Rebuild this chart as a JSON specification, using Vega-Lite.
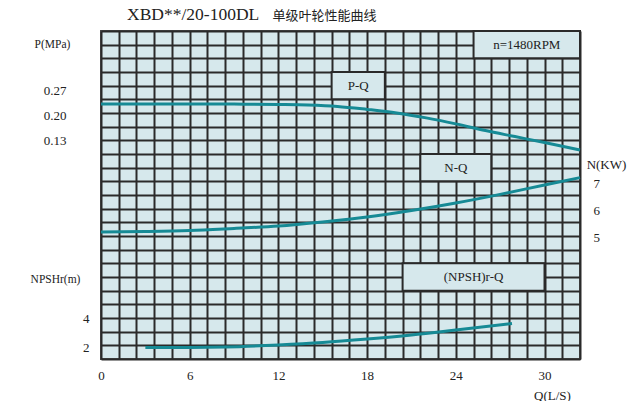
{
  "$schema": "https://vega.github.io/schema/vega-lite/v6.json",
  "autosize": {"type": "none"},
  "padding": {"left": 101, "top": 31, "right": 62, "bottom": 42},
  "width": 479,
  "height": 328,
  "background": "#ffffff",
  "title": {
    "text": "XBD**/20-100DL",
    "anchor": "start",
    "frame": "group",
    "dx": 26,
    "dy": 20,
    "offset": 6,
    "font": "Liberation Serif",
    "fontSize": 17.5,
    "fontWeight": "normal",
    "color": "#222222"
  },
  "config": {
    "view": {"fill": "#d6e8ec", "stroke": "#4a4a4a", "strokeWidth": 2},
    "axis": {
      "labelFont": "Liberation Serif",
      "labelFontSize": 13,
      "labelColor": "#222222",
      "titleFont": "Liberation Serif",
      "titleFontWeight": "normal",
      "titleColor": "#222222",
      "ticks": false,
      "domain": false,
      "grid": false,
      "labelOverlap": false,
      "labelFlush": false,
      "labelBound": false,
      "tickCount": 100
    },
    "text": {"font": "Liberation Serif"}
  },
  "resolve": {"scale": {"y": "independent"}, "axis": {"y": "independent"}},
  "layer": [
    {
      "data": {"values": [
        {"label": "n=1480RPM", "x1": 25.2, "x2": 32.4, "r1": 22, "r2": 24, "qc": 28.8, "rc": 23},
        {"label": "P-Q", "x1": 15.6, "x2": 19.2, "r1": 19, "r2": 21, "qc": 17.4, "rc": 20},
        {"label": "N-Q", "x1": 21.6, "x2": 26.4, "r1": 13, "r2": 15, "qc": 24, "rc": 14},
        {"label": "(NPSH)r-Q", "x1": 20.4, "x2": 30, "r1": 5, "r2": 7, "qc": 25.2, "rc": 6}
      ]},
      "layer": [
        {
          "mark": {"type": "rect", "fill": "#d6e8ec", "stroke": "#2a2a2a", "strokeWidth": 2},
          "encoding": {
            "x": {
              "field": "x1", "type": "quantitative",
              "scale": {"domain": [0, 32.4], "nice": false, "zero": false},
              "axis": {
                "orient": "bottom",
                "values": [0, 1.2, 2.4, 3.6, 4.8, 6, 7.2, 8.4, 9.6, 10.8, 12, 13.2, 14.4, 15.6, 16.8, 18, 19.2, 20.4, 21.6, 22.8, 24, 25.2, 26.4, 27.6, 28.8, 30, 31.2, 32.4],
                "tickCount": 100,
                "format": ".0f",
                "labelExpr": "indexof([0, 6, 12, 18, 24, 30], datum.value) >= 0 ? datum.label : ''",
                "grid": true, "gridColor": "#2a2a2a", "gridWidth": 2, "gridOpacity": 1,
                "labelPadding": 10,
                "title": "Q(L/S)",
                "titleFontSize": 13,
                "titleX": 451, "titleY": 36,
                "titleAlign": "center", "titleBaseline": "middle", "titleAnchor": null
              }
            },
            "x2": {"field": "x2"},
            "y": {
              "field": "r1", "type": "quantitative",
              "scale": {"domain": [0, 24], "nice": false, "zero": false},
              "axis": {
                "orient": "left",
                "values": [0, 1, 2, 3, 4, 5, 6, 7, 8, 9, 10, 11, 12, 13, 14, 15, 16, 17, 18, 19, 20, 21, 22, 23, 24],
                "tickCount": 100,
                "grid": true, "gridColor": "#2a2a2a", "gridWidth": 2, "gridOpacity": 1,
                "labels": false,
                "title": "单级叶轮性能曲线",
                "titleFont": "Noto Sans CJK SC",
                "titleFontSize": 13,
                "titleAngle": 0,
                "titleX": 171, "titleY": -16,
                "titleAlign": "left", "titleBaseline": "middle", "titleAnchor": null
              }
            },
            "y2": {"field": "r2"}
          }
        },
        {
          "mark": {"type": "text", "fontSize": 13, "color": "#222222", "align": "center", "baseline": "middle"},
          "encoding": {
            "x": {"field": "qc", "type": "quantitative"},
            "y": {"field": "rc", "type": "quantitative"},
            "text": {"field": "label"}
          }
        }
      ]
    },
    {
      "data": {"values": [
        {"q": 0, "p": 0.232}, {"q": 3, "p": 0.232}, {"q": 6, "p": 0.232}, {"q": 9, "p": 0.232},
        {"q": 12, "p": 0.231}, {"q": 14, "p": 0.2295}, {"q": 16, "p": 0.2255}, {"q": 18, "p": 0.217},
        {"q": 20, "p": 0.207}, {"q": 22, "p": 0.193}, {"q": 24, "p": 0.176}, {"q": 26, "p": 0.157},
        {"q": 28, "p": 0.14}, {"q": 30, "p": 0.123}, {"q": 32.4, "p": 0.102}
      ]},
      "mark": {"type": "line", "color": "#168a95", "strokeWidth": 3, "interpolate": "monotone", "strokeCap": "butt"},
      "encoding": {
        "x": {"field": "q", "type": "quantitative"},
        "y": {
          "field": "p", "type": "quantitative",
          "scale": {"domain": [-0.4903, 0.4392], "nice": false, "zero": false},
          "axis": {
            "orient": "left",
            "values": [0.27, 0.2, 0.13],
            "format": ".2f",
            "labelPadding": 35,
            "title": "P(MPa)",
            "titleFontSize": 11.5,
            "titleAngle": 0,
            "titleX": -49, "titleY": 13,
            "titleAlign": "center", "titleBaseline": "middle", "titleAnchor": null
          }
        }
      }
    },
    {
      "data": {"values": [
        {"q": 0, "n": 5.2}, {"q": 3, "n": 5.215}, {"q": 6, "n": 5.25}, {"q": 9, "n": 5.33},
        {"q": 12, "n": 5.42}, {"q": 15, "n": 5.57}, {"q": 18, "n": 5.75}, {"q": 21, "n": 5.99},
        {"q": 24, "n": 6.27}, {"q": 27, "n": 6.59}, {"q": 30, "n": 6.94}, {"q": 32.4, "n": 7.21}
      ]},
      "mark": {"type": "line", "color": "#168a95", "strokeWidth": 3, "interpolate": "monotone", "strokeCap": "butt"},
      "encoding": {
        "x": {"field": "q", "type": "quantitative"},
        "y": {
          "field": "n", "type": "quantitative",
          "scale": {"domain": [0.493, 12.641], "nice": false, "zero": false},
          "axis": {
            "orient": "right",
            "values": [5, 6, 7],
            "format": "d",
            "labelPadding": 13,
            "title": "N(KW)",
            "titleFontSize": 13,
            "titleAngle": 0,
            "titleX": 26, "titleY": 133,
            "titleAlign": "center", "titleBaseline": "middle", "titleAnchor": null
          }
        }
      }
    },
    {
      "data": {"values": [
        {"q": 3, "h": 1.99}, {"q": 6, "h": 1.99}, {"q": 8.4, "h": 2.02}, {"q": 12, "h": 2.16},
        {"q": 15, "h": 2.33}, {"q": 18, "h": 2.57}, {"q": 21, "h": 2.85}, {"q": 24, "h": 3.19},
        {"q": 27.8, "h": 3.64}
      ]},
      "mark": {"type": "line", "color": "#168a95", "strokeWidth": 3, "interpolate": "monotone", "strokeCap": "butt"},
      "encoding": {
        "x": {"field": "q", "type": "quantitative"},
        "y": {
          "field": "h", "type": "quantitative",
          "scale": {"domain": [1.193, 23.81], "nice": false, "zero": false},
          "axis": {
            "orient": "left",
            "values": [2, 4],
            "format": "d",
            "labelPadding": 12,
            "title": "NPSHr(m)",
            "titleFontSize": 11.5,
            "titleAngle": 0,
            "titleX": -46, "titleY": 248.5,
            "titleAlign": "center", "titleBaseline": "middle", "titleAnchor": null
          }
        }
      }
    }
  ]
}
